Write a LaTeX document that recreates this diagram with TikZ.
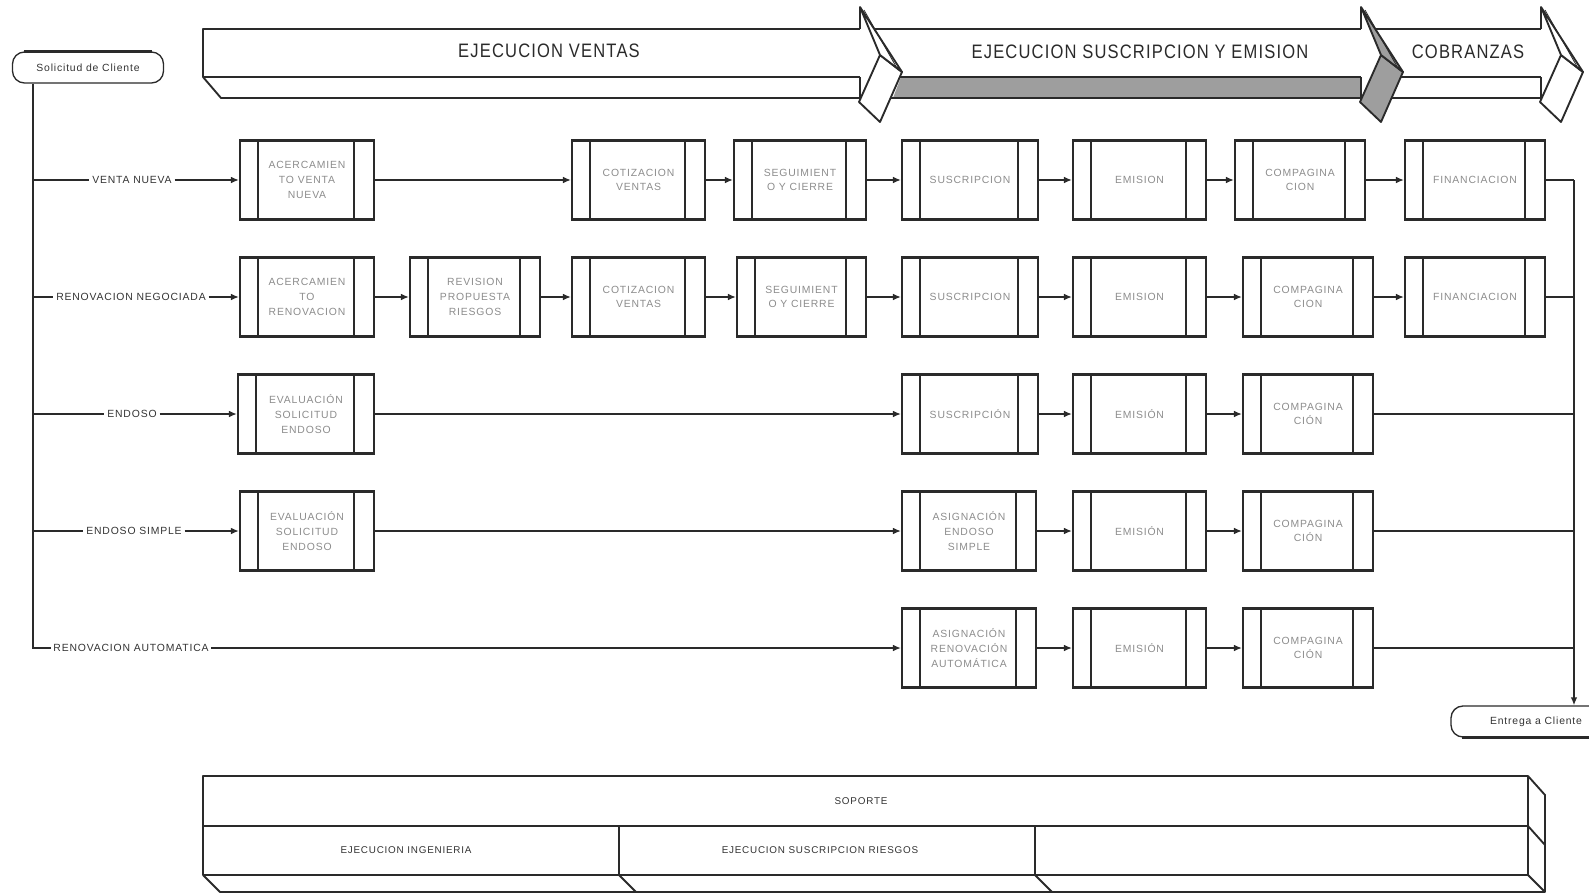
\documentclass[tikz,border=0pt]{standalone}
\usepackage{fontspec}
\setmainfont{Liberation Sans}
\newfontfamily\hdrfont[FakeStretch=0.85,LetterSpace=6]{Liberation Sans}
\newfontfamily\smfont[LetterSpace=8]{Liberation Sans}
\usetikzlibrary{arrows.meta,calc}
\definecolor{ink}{HTML}{2A2A2A}
\definecolor{boxtxt}{HTML}{8C8C8C}
\definecolor{lbltxt}{HTML}{333333}
\definecolor{bandgray}{HTML}{9E9E9E}
\def\pxu{0.75pt}
\begin{document}
\begin{tikzpicture}[x=0.75pt,y=-0.75pt,
  line/.style={draw=ink, line width=1.1pt},
  arr/.style={line, -{Latex[length=6pt,width=5pt]}},
  hdr/.style={draw=ink, line width=1.4pt, line join=round},
  proc/.style={draw=ink, line width=1.6pt, minimum height=79*\pxu, inner sep=0pt,
    align=center, text=boxtxt, font=\smfont\fontsize{7.8}{11}\selectfont,
    path picture={
      \draw[ink, line width=1.1pt]
        ($(path picture bounding box.north west)+(18,0)$) -- ($(path picture bounding box.south west)+(18,0)$);
      \draw[ink, line width=1.1pt]
        ($(path picture bounding box.north east)+(-20,0)$) -- ($(path picture bounding box.south east)+(-20,0)$);
    }},
  lbl/.style={font=\smfont\fontsize{7.8}{9}\selectfont, text=lbltxt, inner sep=2pt},
  term/.style={draw=ink, line width=1pt, rounded corners=9pt, minimum height=31*\pxu,
    font=\smfont\fontsize{7.8}{9}\selectfont, text=lbltxt},
  hdrtxt/.style={font=\hdrfont\fontsize{14.6}{16}\selectfont, text=ink},
  suptxt/.style={font=\smfont\fontsize{7.4}{9}\selectfont, text=lbltxt}
]
\useasboundingbox (0,0) rectangle (1589,894);

% ---------- phase arrows ----------
\fill[bandgray] (901,77) -- (1361,77) -- (1361,98) -- (893,98) -- cycle;
% ventas shaft
\draw[hdr] (860,29) -- (203,29) -- (203,77) -- (860,77);
\draw[hdr] (203,77) -- (221,98) -- (860,98);
% suscripcion shaft
\draw[hdr] (870,29) -- (1361,29);
\draw[hdr] (870,77) -- (1361,77);
\draw[hdr] (870,98) -- (1361,98);
% cobranzas shaft
\draw[hdr] (1371,29) -- (1541,29);
\draw[hdr] (1371,77) -- (1541,77);
\draw[hdr] (1371,98) -- (1541,98);
% arrow heads
\foreach \xh/\fc in {860/white, 1361/bandgray, 1541/white} {
  \draw[hdr] (\xh,29) -- (\xh,7);
  \draw[hdr] (\xh,77) -- (\xh,102);
  \filldraw[hdr, fill=\fc] (\xh+20,55) -- (\xh+42,72) -- (\xh+20,122) -- (\xh-1,102) -- cycle;
  \filldraw[hdr, fill=\fc] (\xh,7) -- (\xh+42,72) -- (\xh+20,55) -- cycle;
  \draw[ink, line width=0.6pt] (\xh+4,10) -- (\xh+38,70);
}
\node[hdrtxt] (t1) at (549,51) {EJECUCION VENTAS};
\node[hdrtxt] (t2) at (1140,52) {EJECUCION SUSCRIPCION Y EMISION};
\node[hdrtxt] (t3) at (1468,52) {COBRANZAS};

% ---------- start / end ----------
\node[term, minimum width=151*\pxu] (sol) at (88,67.5) {Solicitud de Cliente};
\draw[ink, line width=2pt] ($(sol.north west)+(12,0)$) -- ($(sol.north east)+(-12,0)$);
\node[term, minimum width=170*\pxu] (ent) at (1536,721.5) {Entrega a Cliente};
\draw[ink, line width=2pt] ($(ent.south west)+(12,0)$) -- ($(ent.south east)+(-12,0)$);

% ---------- row labels ----------
\node[lbl] (l1) at (132,180) {VENTA NUEVA};
\node[lbl] (l2) at (131,297) {RENOVACION NEGOCIADA};
\node[lbl] (l3) at (132,414) {ENDOSO};
\node[lbl] (l4) at (134,531) {ENDOSO SIMPLE};
\node[lbl] (l5) at (131,648) {RENOVACION AUTOMATICA};

% ---------- row 1 ----------
\node[proc, minimum width=134*\pxu] (a1) at (307,180) {ACERCAMIEN\\TO VENTA\\NUEVA};
\node[proc, minimum width=133*\pxu] (c1) at (638.5,180) {COTIZACION\\VENTAS};
\node[proc, minimum width=132*\pxu] (d1) at (800,180) {SEGUIMIENT\\O Y CIERRE};
\node[proc, minimum width=136*\pxu] (e1) at (970,180) {SUSCRIPCION};
\node[proc, minimum width=133*\pxu] (f1) at (1139.5,180) {EMISION};
\node[proc, minimum width=130*\pxu] (g1) at (1300,180) {COMPAGINA\\CION};
\node[proc, minimum width=140*\pxu] (h1) at (1475,180) {FINANCIACION};

% ---------- row 2 ----------
\node[proc, minimum width=134*\pxu] (a2) at (307,297) {ACERCAMIEN\\TO\\RENOVACION};
\node[proc, minimum width=130*\pxu] (b2) at (475,297) {REVISION\\PROPUESTA\\RIESGOS};
\node[proc, minimum width=133*\pxu] (c2) at (638.5,297) {COTIZACION\\VENTAS};
\node[proc, minimum width=129*\pxu] (d2) at (801.5,297) {SEGUIMIENT\\O Y CIERRE};
\node[proc, minimum width=136*\pxu] (e2) at (970,297) {SUSCRIPCION};
\node[proc, minimum width=133*\pxu] (f2) at (1139.5,297) {EMISION};
\node[proc, minimum width=130*\pxu] (g2) at (1308,297) {COMPAGINA\\CION};
\node[proc, minimum width=140*\pxu] (h2) at (1475,297) {FINANCIACION};

% ---------- row 3 ----------
\node[proc, minimum width=136*\pxu] (a3) at (306,414) {EVALUACIÓN\\SOLICITUD\\ENDOSO};
\node[proc, minimum width=136*\pxu] (e3) at (970,414) {SUSCRIPCIÓN};
\node[proc, minimum width=133*\pxu] (f3) at (1139.5,414) {EMISIÓN};
\node[proc, minimum width=130*\pxu] (g3) at (1308,414) {COMPAGINA\\CIÓN};

% ---------- row 4 ----------
\node[proc, minimum width=134*\pxu] (a4) at (307,531) {EVALUACIÓN\\SOLICITUD\\ENDOSO};
\node[proc, minimum width=134*\pxu] (e4) at (969,531) {ASIGNACIÓN\\ENDOSO\\SIMPLE};
\node[proc, minimum width=133*\pxu] (f4) at (1139.5,531) {EMISIÓN};
\node[proc, minimum width=130*\pxu] (g4) at (1308,531) {COMPAGINA\\CIÓN};

% ---------- row 5 ----------
\node[proc, minimum width=134*\pxu] (e5) at (969,648) {ASIGNACIÓN\\RENOVACIÓN\\AUTOMÁTICA};
\node[proc, minimum width=133*\pxu] (f5) at (1139.5,648) {EMISIÓN};
\node[proc, minimum width=130*\pxu] (g5) at (1308,648) {COMPAGINA\\CIÓN};

% ---------- left spine and branches ----------
\coordinate (sp) at (33,83);
\draw[line] (sol.south -| sp) |- (l5.west);
\foreach \l in {l1,l2,l3,l4} { \draw[line] (\l.west -| sp) -- (\l.west); }
\draw[arr] (l1.east) -- (a1.west);
\draw[arr] (l2.east) -- (a2.west);
\draw[arr] (l3.east) -- (a3.west);
\draw[arr] (l4.east) -- (a4.west);
\draw[arr] (l5.east) -- (e5.west);

% ---------- flow connectors ----------
\draw[arr] (a1) -- (c1);
\draw[arr] (c1) -- (d1);
\draw[arr] (d1) -- (e1);
\draw[arr] (e1) -- (f1);
\draw[arr] (f1) -- (g1);
\draw[arr] (g1) -- (h1);
\draw[arr] (a2) -- (b2);
\draw[arr] (b2) -- (c2);
\draw[arr] (c2) -- (d2);
\draw[arr] (d2) -- (e2);
\draw[arr] (e2) -- (f2);
\draw[arr] (f2) -- (g2);
\draw[arr] (g2) -- (h2);
\draw[arr] (a3) -- (e3);
\draw[arr] (e3) -- (f3);
\draw[arr] (f3) -- (g3);
\draw[arr] (a4) -- (e4);
\draw[arr] (e4) -- (f4);
\draw[arr] (f4) -- (g4);
\draw[arr] (e5) -- (f5);
\draw[arr] (f5) -- (g5);

% ---------- right collector ----------
\coordinate (rc) at (1574,180);
\foreach \n in {h1,h2,g3,g4,g5} { \draw[line] (\n.east) -- (\n.east -| rc); }
\draw[arr] (h1.east -| rc) -- (ent.north -| rc);

% ---------- support block ----------
\draw[hdr] (203,776) rectangle (1528,875);
\draw[hdr] (203,826) -- (1528,826);
\draw[hdr] (619,826) -- (619,875);
\draw[hdr] (1035,826) -- (1035,875);
\draw[hdr] (203,875) -- (220,892) -- (1545,892) -- (1545,795) -- (1528,776);
\draw[hdr] (619,875) -- (636,892);
\draw[hdr] (1035,875) -- (1052,892);
\draw[hdr] (1528,826) -- (1545,845);
\draw[hdr] (1528,875) -- (1545,892);
\node[suptxt] (sop) at (861,801) {SOPORTE};
\node[suptxt] (ing) at (406,850) {EJECUCION INGENIERIA};
\node[suptxt] (sus) at (820,850) {EJECUCION SUSCRIPCION RIESGOS};
\end{tikzpicture}
\end{document}
